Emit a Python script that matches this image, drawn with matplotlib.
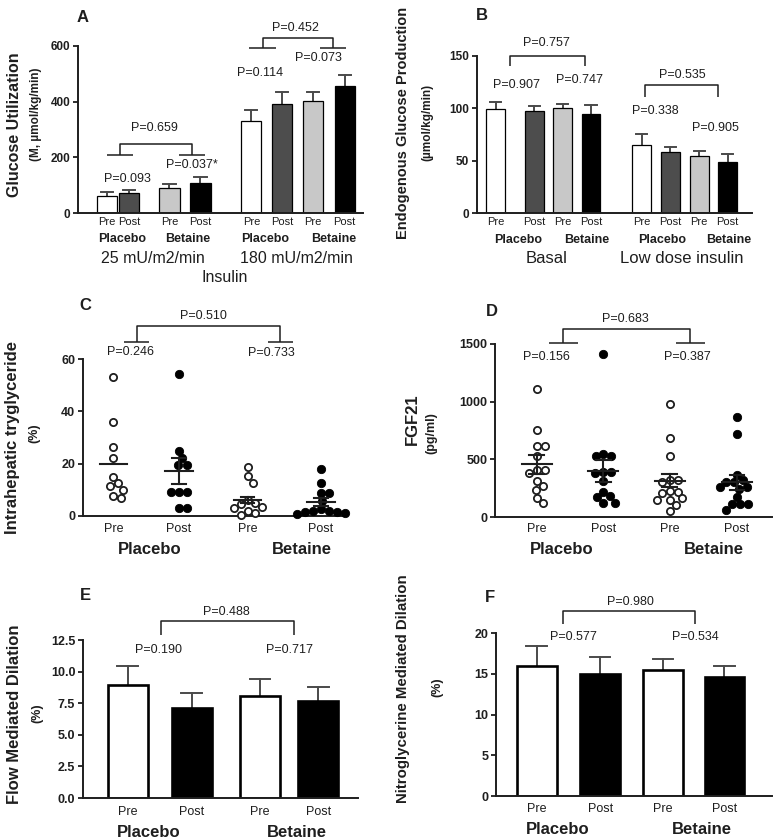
import numpy as np
import matplotlib
matplotlib.use("Agg")
import matplotlib.pyplot as plt
from matplotlib.transforms import blended_transform_factory

plt.rcParams['font.family'] = ['Liberation Sans', 'DejaVu Sans']

# ---------------- DATA ----------------
# Panel A: glucose utilization (25 and 180 mU/m2/min insulin)
a_labels = ["Pre", "Post", "Pre", "Post", "Pre", "Post", "Pre", "Post"]
a_means = [60, 72, 89, 107, 332, 390, 403, 456]
a_sems = [15, 12, 16, 21, 38, 46, 33, 39]
a_groups = ["Placebo", "Betaine", "Placebo", "Betaine"]
a_doses = ["25 mU/m2/min", "180 mU/m2/min"]

# Panel B: endogenous glucose production
b_labels = ["Pre", "Post", "Pre", "Post", "Pre", "Post", "Pre", "Post"]
b_means = [99, 97, 100, 95, 65, 58, 54, 49]
b_sems = [7, 5, 4, 8, 10, 5, 5, 7]
b_groups = ["Placebo", "Betaine", "Placebo", "Betaine"]
b_conds = ["Basal", "Low dose insulin"]

# Panel C: intrahepatic triglyceride (%)
c_placebo_pre = [53, 36, 26.5, 22, 15, 12.5, 11.5, 10, 7.5, 6.8]
c_placebo_post = [54.3, 24.8, 22, 19.5, 19.5, 9.3, 9, 9.3, 2.9, 2.9]
c_betaine_pre = [18.6, 15.2, 12.8, 6, 5, 4.5, 3.5, 3, 2, 1, 0.5]
c_betaine_post = [17.8, 12.5, 8.9, 8.9, 5.9, 2.5, 2, 2, 1.5, 1.5, 1, 0.8]
c_means = [20, 17.2, 6.1, 5.4]
c_sems = [0, 4.9, 1.3, 1.4]

# Panel D: FGF21 (pg/ml)
d_placebo_pre = [1114, 756, 612, 612, 525, 404, 404, 381, 312, 271, 237, 162, 121]
d_placebo_post = [1414, 525, 531, 545, 387, 387, 381, 309, 213, 173, 179, 121, 121]
d_betaine_pre = [981, 681, 525, 317, 300, 317, 208, 222, 219, 150, 150, 164, 107, 52]
d_betaine_post = [866, 718, 366, 300, 300, 317, 260, 242, 260, 173, 110, 63, 110, 110]
d_means = [456, 398, 314, 300]
d_sems = [80, 94, 58, 68]

# Panel E: flow mediated dilation (%)
e_means = [8.95, 7.1, 8.08, 7.7]
e_sems = [1.52, 1.2, 1.32, 1.06]

# Panel F: nitroglycerine mediated dilation (%)
f_means = [15.96, 15.0, 15.5, 14.6]
f_sems = [2.44, 2.06, 1.3, 1.4]

pp_labels = ["Pre", "Post", "Pre", "Post"]
pp_groups = ["Placebo", "Betaine"]

# ---------------- LAYOUT ----------------
W, H = 773, 838
fig = plt.figure(figsize=(W / 100, H / 100), dpi=100)
fig.patch.set_facecolor("white")
INK = "#1e1e1e"


def fy(py):
    return 1 - py / H


def add_ax(x0, x1, ytop, ybot):
    ax = fig.add_axes([x0 / W, 1 - ybot / H, (x1 - x0) / W, (ybot - ytop) / H])
    for s in ["top", "right"]:
        ax.spines[s].set_visible(False)
    for s in ["left", "bottom"]:
        ax.spines[s].set_linewidth(1.4)
        ax.spines[s].set_color(INK)
    ax.tick_params(axis="x", length=0, labelbottom=False)
    ax.tick_params(axis="y", length=3.5, width=1.3, color=INK, pad=2)
    return ax


def style_yticks(ax, ticks, labels, size):
    ax.set_yticks(ticks)
    ax.set_yticklabels(labels, fontsize=size, fontweight="bold", color=INK)


def xtext(ax, x, py, s, **kw):
    tr = blended_transform_factory(ax.transData, fig.transFigure)
    ax.text(x, fy(py), s, transform=tr, ha="center", va="center",
            color=INK, clip_on=False, **kw)


def ylab(px, py, s, size):
    fig.text(px / W, fy(py), s, rotation=90, ha="center", va="center",
             fontsize=size, fontweight="bold", color=INK)


def panel_letter(px, py, s):
    fig.text(px / W, fy(py), s, ha="center", va="center", fontsize=12,
             fontweight="bold", color=INK)


def bracket(ax, x1, x2, ytop, ybot, feet=None, lw=1.1):
    kw = dict(color=INK, lw=lw, clip_on=False, solid_capstyle="butt")
    ax.plot([x1, x1, x2, x2], [ybot, ytop, ytop, ybot], **kw)
    if feet is not None:
        ax.plot([x1 - feet, x1 + feet], [ybot, ybot], **kw)
        ax.plot([x2 - feet, x2 + feet], [ybot, ybot], **kw)


def ptext(ax, x, y, s, size=9):
    ax.text(x, y, s, ha="center", va="center", fontsize=size,
            color=INK, clip_on=False)


def bars(ax, pos, means, sems, colors, width, lw, ecolor="#4a4a4a", capw=None):
    ax.bar(pos, means, width=width, color=colors, edgecolor="black",
           linewidth=lw, zorder=2)
    if capw is None:
        capw = width * 0.6
    for x, m, s in zip(pos, means, sems):
        ax.plot([x, x], [m, m + s], color=ecolor, lw=1.4, zorder=1.5)
        ax.plot([x - capw / 2, x + capw / 2], [m + s, m + s], color=ecolor, lw=1.4, zorder=1.5)


def swarm(ax, x0, vals, diam):
    pts = ax.transData.transform(np.column_stack([np.full(len(vals), x0), vals]))
    ys = pts[:, 1]
    offs = np.zeros(len(vals))
    placed = []
    for i in np.argsort(-ys):
        y = ys[i]
        cands = [0.0]
        forb = []
        for xo, yo in placed:
            dy = abs(y - yo)
            if dy < diam:
                h = np.sqrt(diam ** 2 - dy ** 2)
                forb.append((xo - h, xo + h))
                cands += [xo + h, xo - h]
        valid = [c for c in cands if all(not (a + 1e-6 < c < b - 1e-6) for a, b in forb)]
        best = min(valid, key=abs)
        offs[i] = best
        placed.append((best, y))
    ppu = ax.transData.transform((1, 0))[0] - ax.transData.transform((0, 0))[0]
    return x0 + offs / ppu


def mean_sem(ax, x, m, s, mw, cw):
    ax.plot([x - mw / 2, x + mw / 2], [m, m], color=INK, lw=1.5, zorder=4)
    if s > 0:
        ax.plot([x, x], [m - s, m + s], color=INK, lw=1.5, zorder=4)
        for yy in (m - s, m + s):
            ax.plot([x - cw / 2, x + cw / 2], [yy, yy], color=INK, lw=1.5, zorder=4)


def scatter_panel(ax, pos, sets, means, sems, mw, cw):
    for i, (x, vals) in enumerate(zip(pos, sets)):
        xs = swarm(ax, x, vals, 8.0)
        if i % 2 == 0:
            ax.plot(xs, vals, "o", ms=5.2, mfc="white", mec=INK, mew=1.3,
                    linestyle="none", zorder=3, clip_on=False)
        else:
            ax.plot(xs, vals, "o", ms=6.0, mfc="black", mec="black", mew=0.6,
                    linestyle="none", zorder=3, clip_on=False)
        mean_sem(ax, x, means[i], sems[i], mw, cw)


fill4 = ["white", "#4d4d4d", "#c8c8c8", "black"]

# ---------------- PANEL A ----------------
axA = add_ax(78, 363, 46, 213)
axA.set_xlim(0, 9.19)
axA.set_ylim(0, 600)
posA = [0.93, 1.64, 2.95, 3.95, 5.59, 6.59, 7.57, 8.6]
bars(axA, posA, a_means, a_sems, fill4 * 2, 0.65, 0.9)
style_yticks(axA, [0, 200, 400, 600], ["0", "200", "400", "600"], 8.5)
for x, l in zip(posA, a_labels):
    xtext(axA, x, 222, l, fontsize=8)
for x, g in zip([1.43, 3.55, 6.05, 8.23], a_groups):
    xtext(axA, x, 239, g, fontsize=9, fontweight="bold")
for x, d in zip([2.42, 7.04], a_doses):
    xtext(axA, x, 258, d, fontsize=11.5)
xtext(axA, 4.73, 277, "Insulin", fontsize=11.5)
bracket(axA, 1.34, 3.69, 248, 209, feet=0.42)
ptext(axA, 2.47, 304, "P=0.659")
ptext(axA, 1.58, 123, "P=0.093")
ptext(axA, 3.66, 171, "P=0.037*")
bracket(axA, 5.95, 8.23, 630, 593, feet=0.42)
ptext(axA, 7.02, 666, "P=0.452")
ptext(axA, 5.86, 503, "P=0.114")
ptext(axA, 7.74, 558, "P=0.073")
ylab(15, 125, "Glucose Utilization", 11.5)
ylab(36, 114, "(M, µmol/kg/min)", 8.5)
panel_letter(83, 17, "A")

# ---------------- PANEL B ----------------
axB = add_ax(477, 752, 56, 213)
axB.set_xlim(0, 9.68)
axB.set_ylim(0, 150)
posB = [0.66, 2.02, 3.02, 4.01, 5.8, 6.8, 7.82, 8.82]
bars(axB, posB, b_means, b_sems, fill4 * 2, 0.66, 0.9)
style_yticks(axB, [0, 50, 100, 150], ["0", "50", "100", "150"], 8.5)
for x, l in zip(posB, b_labels):
    xtext(axB, x, 222, l, fontsize=8)
for x, g in zip([1.45, 3.86, 6.5, 8.86], b_groups):
    xtext(axB, x, 240, g, fontsize=9, fontweight="bold")
for x, c in zip([2.45, 7.21], b_conds):
    xtext(axB, x, 258, c, fontsize=12)
bracket(axB, 1.15, 3.8, 150, 140)
ptext(axB, 2.45, 162, "P=0.757")
ptext(axB, 1.39, 122, "P=0.907")
ptext(axB, 3.62, 127, "P=0.747")
bracket(axB, 5.92, 8.5, 122, 111)
ptext(axB, 7.21, 132, "P=0.535")
ptext(axB, 6.27, 97, "P=0.338")
ptext(axB, 8.39, 81, "P=0.905")
ylab(403, 123, "Endogenous Glucose Production", 10.5)
ylab(427, 122, "(µmol/kg/min)", 8.5)
panel_letter(482, 15, "B")

# ---------------- PANEL C ----------------
axC = add_ax(83, 343, 359, 516)
axC.set_xlim(0, 3.76)
axC.set_ylim(0, 60)
posC = [0.44, 1.39, 2.38, 3.44]
scatter_panel(axC, posC, [c_placebo_pre, c_placebo_post, c_betaine_pre, c_betaine_post],
              c_means, c_sems, 0.4, 0.2)
style_yticks(axC, [0, 20, 40, 60], ["0", "20", "40", "60"], 9)
for x, l in zip(posC, pp_labels):
    xtext(axC, x, 529, l, fontsize=9)
for x, g in zip([0.97, 3.16], pp_groups):
    xtext(axC, x, 549, g, fontsize=12, fontweight="bold")
bracket(axC, 0.78, 2.85, 72.6, 66.4, feet=0.18)
ptext(axC, 1.74, 76.4, "P=0.510")
ptext(axC, 0.68, 62.8, "P=0.246")
ptext(axC, 2.73, 62.4, "P=0.733")
ylab(13, 438, "Intrahepatic tryglyceride", 12)
ylab(34, 433, "(%)", 9)
panel_letter(85, 305, "C")

# ---------------- PANEL D ----------------
axD = add_ax(495, 772, 344, 517)
axD.set_xlim(0, 4.15)
axD.set_ylim(0, 1500)
posD = [0.625, 1.625, 2.615, 3.625]
scatter_panel(axD, posD, [d_placebo_pre, d_placebo_post, d_betaine_pre, d_betaine_post],
              d_means, d_sems, 0.45, 0.22)
style_yticks(axD, [0, 500, 1000, 1500], ["0", "500", "1000", "1500"], 9)
for x, l in zip(posD, pp_labels):
    xtext(axD, x, 529, l, fontsize=9)
for x, g in zip([1.0, 3.275], pp_groups):
    xtext(axD, x, 549, g, fontsize=12, fontweight="bold")
bracket(axD, 1.025, 2.925, 1627, 1506, feet=0.22)
ptext(axD, 1.95, 1714, "P=0.683")
ptext(axD, 0.775, 1390, "P=0.156")
ptext(axD, 2.875, 1390, "P=0.387")
ylab(412, 419, "FGF21", 12)
ylab(431, 433, "(pg/ml)", 9)
panel_letter(492, 312, "D")

# ---------------- PANEL E ----------------
axE = add_ax(83, 358, 640, 798)
axE.set_xlim(0, 4.35)
axE.set_ylim(0, 12.5)
posE = [0.71, 1.72, 2.8, 3.72]
bars(axE, posE, e_means, e_sems, ["white", "black", "white", "black"], 0.63, 1.9,
     capw=0.33)
style_yticks(axE, [0, 2.5, 5, 7.5, 10, 12.5],
             ["0.0", "2.5", "5.0", "7.5", "10.0", "12.5"], 9)
for x, l in zip(posE, pp_labels):
    xtext(axE, x, 812, l, fontsize=9)
for x, g in zip([1.04, 3.38], pp_groups):
    xtext(axE, x, 832, g, fontsize=12, fontweight="bold")
bracket(axE, 1.23, 3.34, 14.0, 12.9)
ptext(axE, 2.27, 14.7, "P=0.488")
ptext(axE, 1.19, 11.7, "P=0.190")
ptext(axE, 3.26, 11.7, "P=0.717")
ylab(15, 714, "Flow Mediated Dilation", 12)
ylab(37, 713, "(%)", 9)
panel_letter(85, 595, "E")

# ---------------- PANEL F ----------------
axF = add_ax(496, 772, 633, 796)
axF.set_xlim(0, 4.4)
axF.set_ylim(0, 20)
posF = [0.65, 1.66, 2.66, 3.64]
bars(axF, posF, f_means, f_sems, ["white", "black", "white", "black"], 0.63, 1.9,
     capw=0.33)
style_yticks(axF, [0, 5, 10, 15, 20], ["0", "5", "10", "15", "20"], 9)
for x, l in zip(posF, pp_labels):
    xtext(axF, x, 809, l, fontsize=9)
for x, g in zip([0.99, 3.28], pp_groups):
    xtext(axF, x, 829, g, fontsize=12, fontweight="bold")
bracket(axF, 1.07, 3.18, 22.7, 21.1)
ptext(axF, 2.14, 23.8, "P=0.980")
ptext(axF, 1.23, 19.5, "P=0.577")
ptext(axF, 3.18, 19.5, "P=0.534")
ylab(403, 689, "Nitroglycerine Mediated Dilation", 10.8)
ylab(437, 687, "(%)", 9)
panel_letter(490, 597, "F")

fig.savefig("out.png", dpi=100, facecolor="white")
